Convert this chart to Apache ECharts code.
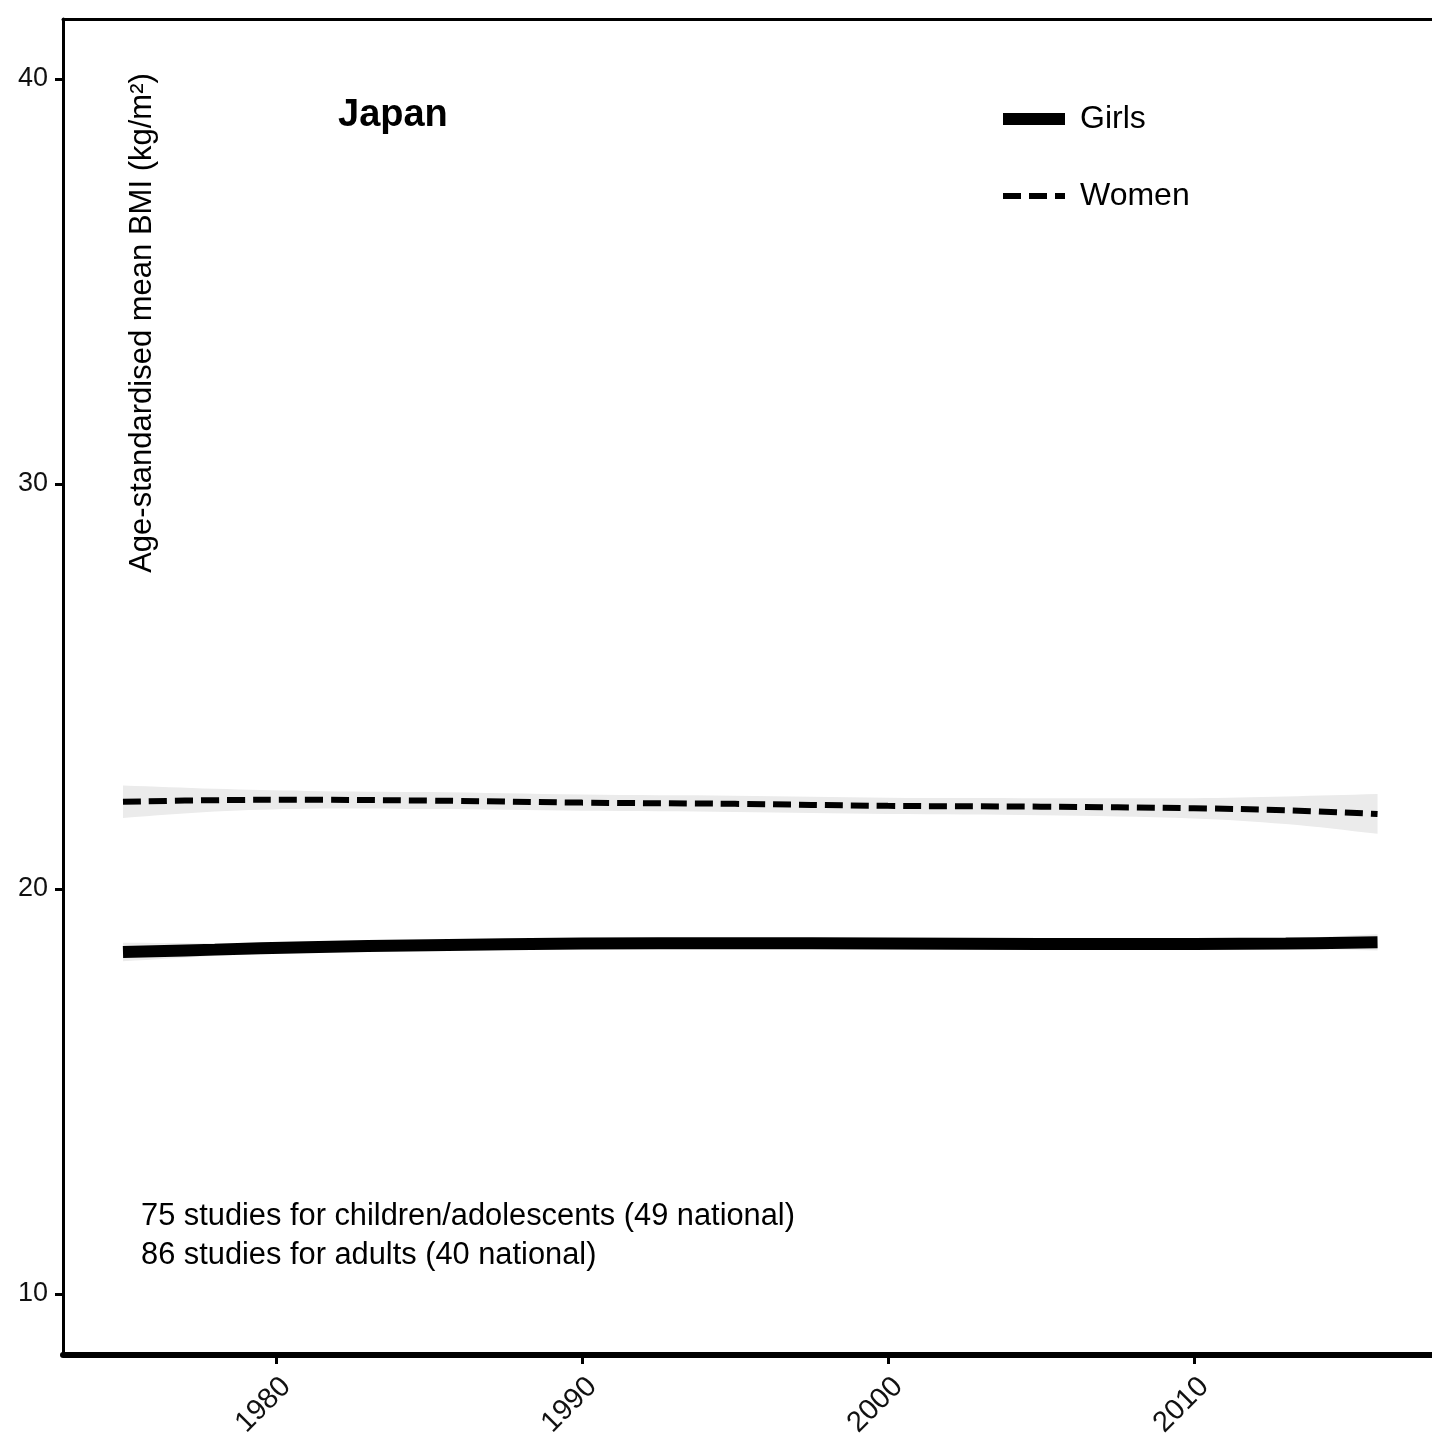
<!DOCTYPE html>
<html>
<head>
<meta charset="utf-8">
<script src="https://cdn.jsdelivr.net/npm/echarts@6/dist/echarts.min.js"></script>
<style>html,body{margin:0;padding:0;background:#fff}#c{width:1432px;height:1449px}</style>
</head>
<body>
<div id="c"></div>
<script>
// ---- data ----
const years      = [1975, 1978, 1981, 1985, 1990, 1995, 2000, 2005, 2010, 2013, 2016];
const womenMean  = [22.15, 22.19, 22.20, 22.18, 22.13, 22.10, 22.05, 22.03, 21.99, 21.94, 21.85];
const womenLow   = [21.75, 21.91, 21.98, 21.97, 21.93, 21.90, 21.85, 21.82, 21.74, 21.60, 21.36];
const womenHigh  = [22.55, 22.47, 22.42, 22.39, 22.33, 22.30, 22.25, 22.24, 22.24, 22.28, 22.34];
const girlsMean  = [18.44, 18.50, 18.56, 18.61, 18.65, 18.66, 18.65, 18.64, 18.64, 18.65, 18.68];
const girlsLow   = [18.21, 18.34, 18.44, 18.51, 18.55, 18.56, 18.55, 18.54, 18.54, 18.52, 18.48];
const girlsHigh  = [18.67, 18.66, 18.68, 18.71, 18.75, 18.76, 18.75, 18.74, 18.74, 18.78, 18.88];
const xTicks     = [1980, 1990, 2000, 2010];
const yTicks     = [10, 20, 30, 40];
const seriesNames = ['Girls', 'Women'];
const countryTitle = 'Japan';
const yTitle = 'Age-standardised mean BMI (kg/m\u00B2)';
const noteLines = ['75 studies for children/adolescents (49 national)', '86 studies for adults (40 national)'];

const FONT = "'Liberation Sans', Arial, Helvetica, sans-serif";
const BAND = '#EBEBEB';
const pairs = (ys) => years.map((y, i) => [y, ys[i]]);

// confidence band as a polygon drawn through the chart's own coordinate scales
function bandSeries(lo, hi) {
  return {
    type: 'custom', coordinateSystem: 'cartesian2d', silent: true, z: 1,
    data: [[years[0], lo[0]]],
    renderItem: function (params, api) {
      const up = years.map((y, i) => api.coord([y, hi[i]]));
      const dn = years.map((y, i) => api.coord([y, lo[i]])).reverse();
      // duplicate the corner points so the smoothed outline keeps straight ends
      const pts = [up[0]].concat(up, [up[up.length - 1]], [dn[0]], dn, [dn[dn.length - 1]]);
      return {type: 'polygon', shape: {points: pts, smooth: 0.35}, style: {fill: BAND, stroke: null}};
    }
  };
}

const chart = echarts.init(document.getElementById('c'), null, {renderer: 'canvas'});
chart.setOption({
  animation: false,
  backgroundColor: '#fff',
  grid: {left: 63, right: 0, top: 19, bottom: 94, containLabel: false},
  xAxis: [{
    type: 'value', min: 1973.04, max: 2017.78, position: 'bottom',
    axisLine: {show: true, onZero: false, lineStyle: {color: '#000', width: 6}},
    axisTick: {show: true, length: 9, lineStyle: {color: '#000', width: 3}, customValues: xTicks},
    axisLabel: {show: true, customValues: xTicks, rotate: 45, margin: 17, align: 'right', verticalAlign: 'top',
                formatter: (v) => String(v), color: '#111', fontSize: 29, fontFamily: FONT},
    splitLine: {show: false}
  }, {
    type: 'value', min: 1973.04, max: 2017.78, position: 'top',
    axisLine: {show: true, onZero: false, lineStyle: {color: '#000', width: 3}},
    axisTick: {show: false}, axisLabel: {show: false}, splitLine: {show: false}
  }],
  yAxis: {
    type: 'value', min: 8.49, max: 41.48,
    axisLine: {show: true, onZero: false, lineStyle: {color: '#000', width: 3}},
    axisTick: {show: true, length: 8, lineStyle: {color: '#000', width: 3}, customValues: yTicks},
    axisLabel: {show: true, customValues: yTicks, margin: 15, formatter: (v) => String(v),
                color: '#111', fontSize: 27, fontFamily: FONT},
    splitLine: {show: false}
  },
  legend: [{
    data: [seriesNames[0]], orient: 'vertical', left: 997, top: 99, padding: 0,
    itemWidth: 62, itemHeight: 14, selectedMode: false,
    lineStyle: {width: 12, color: '#000'},
    itemStyle: {opacity: 0},
    textStyle: {fontSize: 32, fontFamily: FONT, color: '#000', lineHeight: 40, padding: [0, 0, 0, 10]}
  }, {
    data: [seriesNames[1]], orient: 'vertical', left: 1000, top: 176, padding: 0,
    itemWidth: 62, itemHeight: 14, selectedMode: false,
    lineStyle: {width: 6, color: '#000', type: [18, 8]},
    itemStyle: {opacity: 0},
    textStyle: {fontSize: 32, fontFamily: FONT, color: '#000', lineHeight: 40, padding: [0, 0, 0, 10]}
  }],
  title: {
    text: countryTitle, left: 338, top: 97, padding: 0,
    textStyle: {fontSize: 38, fontWeight: 'bold', fontFamily: FONT, color: '#000'}
  },
  graphic: [{
    type: 'text', x: 142, y: 323, rotation: Math.PI / 2,
    style: {text: yTitle, fontSize: 31, fontFamily: FONT, fill: '#000', align: 'center', verticalAlign: 'middle'}
  }, {
    type: 'text', x: 141, y: 1197,
    style: {text: noteLines.join('\n'), fontSize: 30.8, lineHeight: 39, fontFamily: FONT, fill: '#000', align: 'left', verticalAlign: 'top'}
  }],
  series: [
    bandSeries(womenLow, womenHigh),
    bandSeries(girlsLow, girlsHigh),
    {name: seriesNames[1], type: 'line', data: pairs(womenMean), symbol: 'none', smooth: 0.4,
     lineStyle: {color: '#000', width: 6, type: [18, 8], cap: 'butt'}, itemStyle: {color: '#000'}, z: 3},
    {name: seriesNames[0], type: 'line', data: pairs(girlsMean), symbol: 'none', smooth: 0.4,
     lineStyle: {color: '#000', width: 12, cap: 'butt'}, itemStyle: {color: '#000'}, z: 3}
  ]
});
</script>
</body>
</html>
